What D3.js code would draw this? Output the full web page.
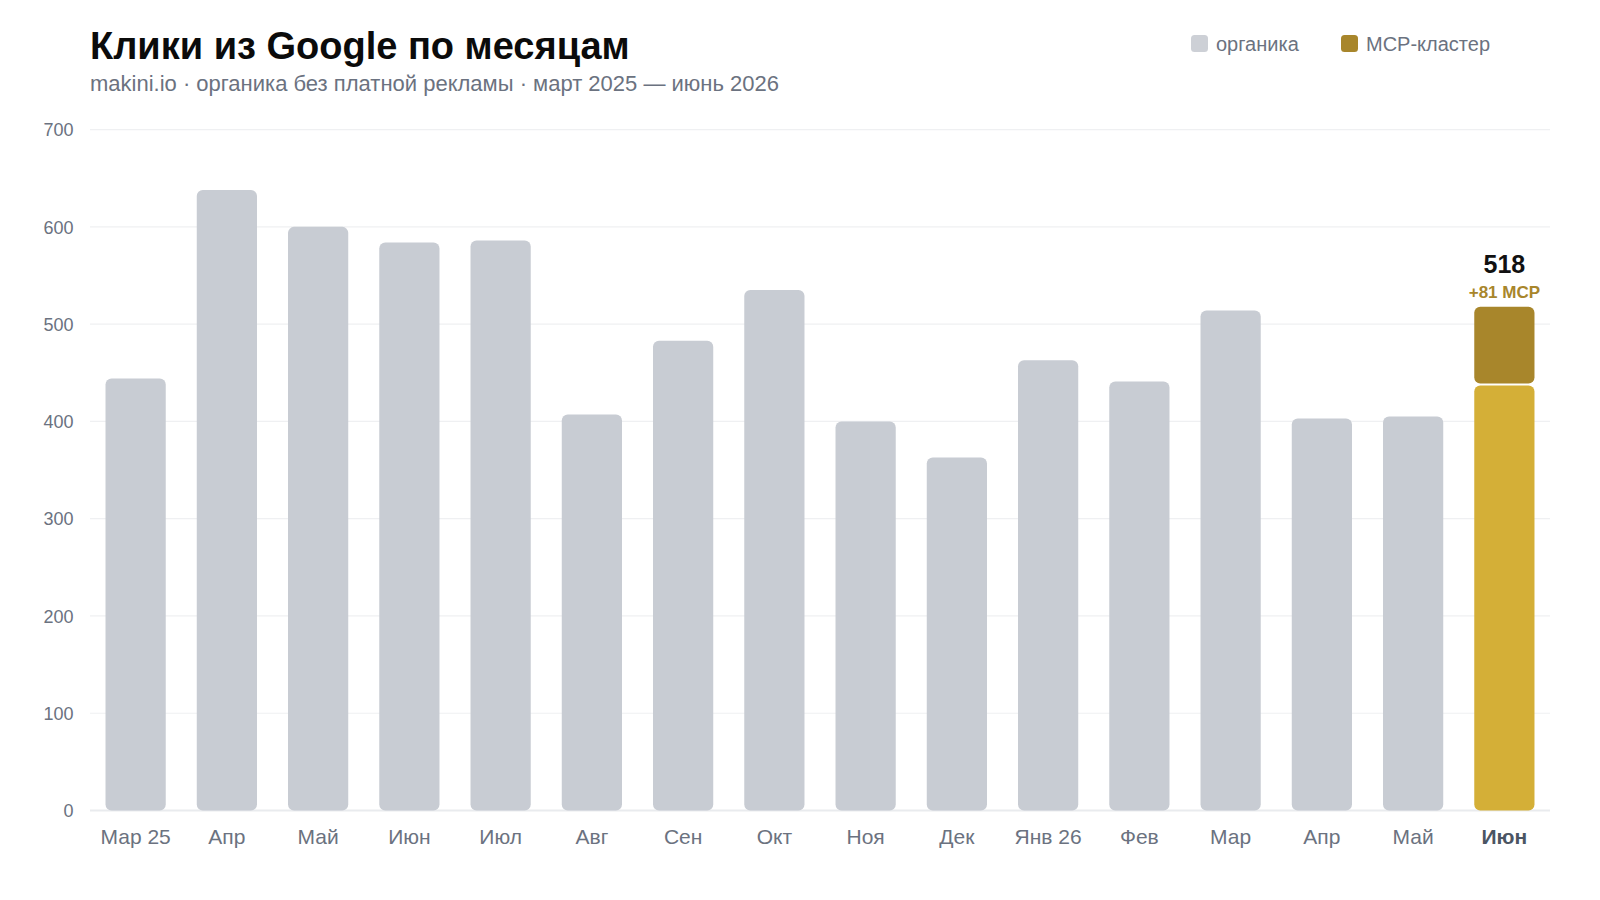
<!DOCTYPE html>
<html><head><meta charset="utf-8">
<script src="https://cdn.jsdelivr.net/npm/d3@7"></script>
<style>
html,body{margin:0;padding:0;background:#fff;}
svg{display:block;font-family:"Liberation Sans",Arial,Helvetica,sans-serif;}
</style></head>
<body>
<svg id="c" width="1600" height="900"></svg>
<script>
const months = ["Мар 25","Апр","Май","Июн","Июл","Авг","Сен","Окт","Ноя","Дек","Янв 26","Фев","Мар","Апр","Май","Июн"];
const organic = [444,638,600,584,586,407,483,535,400,363,463,441,514,403,405,437];
const mcp = [0,0,0,0,0,0,0,0,0,0,0,0,0,0,0,81];
const yTicks = [0,100,200,300,400,500,600,700];
const legendLabels = ["органика","MCP-кластер"];

const svg = d3.select("#c");
const W = 1600, H = 900;
const m = {left:90, right:50, top:130, bottom:90};
const x = d3.scaleBand().domain(d3.range(months.length)).range([m.left, W-m.right]).paddingInner(0.34).paddingOuter(0.17);
const y = d3.scaleLinear().domain([0,700]).range([810.5, 129.6]);
const last = months.length - 1;

// grid
svg.append("g").selectAll("line").data(yTicks).join("line")
  .attr("x1", m.left).attr("x2", W-m.right)
  .attr("y1", d=>y(d)).attr("y2", d=>y(d))
  .attr("stroke", d=> d===0 ? "#e9ebee" : "#eff0f2").attr("stroke-width", d=> d===0?2:1.2);

// y axis labels
const yAxis = d3.axisLeft(y).tickValues(yTicks).tickSize(0).tickPadding(0);
const ya = svg.append("g").attr("transform", `translate(${73.5},0)`).call(yAxis);
ya.select(".domain").remove();
ya.selectAll("text").attr("fill","#6b7280").style("font-size","18px").style("font-family","'Liberation Sans',Arial,sans-serif").attr("dy","0.35em");

// bars
const bw = x.bandwidth();
const r = 6;
svg.append("g").selectAll("rect").data(organic).join("rect")
  .attr("x", (d,i)=>x(i)).attr("width", bw)
  .attr("y", d=>y(d)).attr("height", d=>y(0)-y(d))
  .attr("rx", r).attr("ry", r)
  .attr("fill", (d,i)=> i===last ? "#d4af37" : "#c8ccd3");

svg.append("g").selectAll("rect").data(mcp.map((v,i)=>({v,i})).filter(d=>d.v>0)).join("rect")
  .attr("x", d=>x(d.i)).attr("width", bw)
  .attr("y", d=>y(organic[d.i]+d.v)).attr("height", d=>y(organic[d.i]) - y(organic[d.i]+d.v) - 2)
  .attr("rx", r).attr("ry", r)
  .attr("fill", "#a8862b");

// total labels
const cx = x(last) + bw/2;
const total = organic[last] + mcp[last];
svg.append("text").attr("x", cx).attr("y", y(total) - 34).attr("text-anchor","middle")
  .attr("fill","#111").style("font-size","25px").style("font-weight","700").text(total);
svg.append("text").attr("x", cx).attr("y", y(total) - 9).attr("text-anchor","middle")
  .attr("fill","#a8862b").style("font-size","17px").style("font-weight","700").text("+" + mcp[last] + " MCP");

// x axis labels
const xAxis = d3.axisBottom(x).tickFormat(i=>months[i]).tickSize(0).tickPadding(0);
const xa = svg.append("g").attr("transform", `translate(0,${829})`).call(xAxis);
xa.select(".domain").remove();
xa.selectAll("text").attr("dy","0.71em").attr("y",0)
  .attr("fill", i=> i===last ? "#4b5563" : "#6b7280")
  .style("font-size","21px").style("font-weight", i=> i===last ? "700":"400")
  .style("font-family","'Liberation Sans',Arial,sans-serif");

// title
svg.append("text").attr("x", 90).attr("y", 59).attr("fill","#0b0b0b")
  .style("font-size","38px").style("font-weight","700").text("Клики из Google по месяцам");
svg.append("text").attr("x", 90).attr("y", 91).attr("fill","#6b7280")
  .style("font-size","22px").text("makini.io · органика без платной рекламы · март 2025 — июнь 2026");

// legend
const legColors = ["#cdd0d6","#a8862b"];
const legX = [1191, 1341];
const lg = svg.append("g").selectAll("g").data(legendLabels).join("g")
  .attr("transform",(d,i)=>`translate(${legX[i]},35)`);
lg.append("rect").attr("width",17).attr("height",17).attr("rx",3.5).attr("fill",(d,i)=>legColors[i]);
lg.append("text").attr("x",25).attr("y",15.5).attr("fill","#6b7280").style("font-size","20px").text(d=>d);
</script>
</body></html>
